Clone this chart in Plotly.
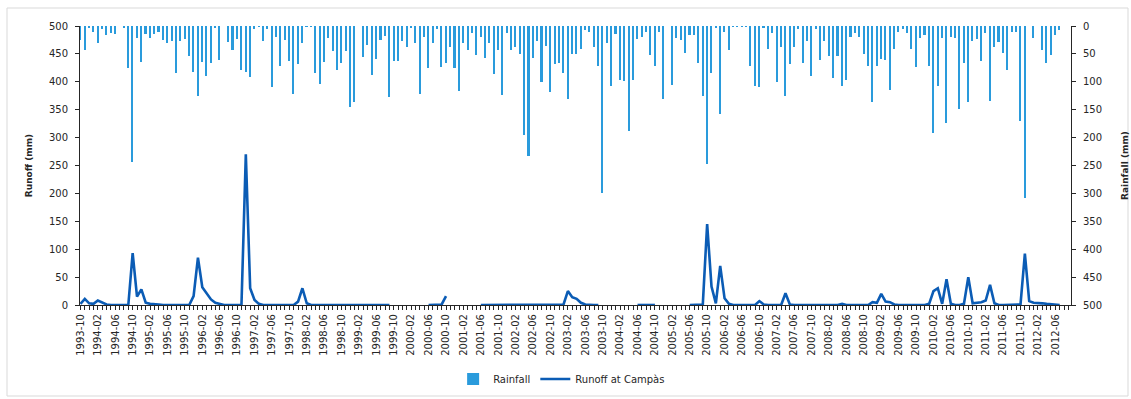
import plotly.graph_objects as go

start_year, start_month = 1993, 10
n_categories = 228  # 1993-10 .. 2012-09

rainfall = [
    25, 43, 4, 11, 31, 5, 16, 12, 14, 0, 2, 75, 243, 21, 64, 15, 22, 15, 11, 25,
    31, 26, 85, 27, 24, 54, 82, 125, 64, 90, 67, 4, 61, 0, 28, 43, 23, 79, 82, 92,
    6, 1, 27, 5, 110, 20, 71, 25, 63, 121, 68, 30, 1, 1, 84, 104, 64, 22, 44, 78,
    66, 44, 145, 136, 0, 56, 34, 88, 59, 25, 18, 128, 62, 62, 26, 37, 4, 31, 121, 19,
    76, 30, 6, 74, 67, 37, 76, 116, 30, 43, 12, 52, 20, 58, 31, 86, 43, 124, 13, 43,
    38, 50, 195, 233, 58, 26, 100, 36, 119, 68, 66, 84, 131, 50, 50, 42, 8, 10, 37, 72,
    300, 30, 108, 15, 96, 98, 188, 97, 24, 19, 10, 52, 72, 10, 131, 0, 106, 22, 25, 49,
    16, 16, 66, 125, 247, 84, 2, 158, 10, 43, 1, 1, 1, 1, 72, 108, 110, 2, 42, 13,
    100, 37, 125, 68, 37, 6, 66, 26, 90, 5, 61, 26, 54, 94, 54, 108, 96, 19, 12, 20,
    50, 72, 136, 72, 60, 61, 115, 42, 10, 6, 13, 42, 73, 22, 16, 72, 191, 108, 22, 173,
    19, 22, 148, 67, 136, 26, 24, 62, 13, 134, 38, 28, 48, 79, 10, 10, 171, 309, 0, 22,
    0, 43, 66, 52, 16, 8,
]

N = None
runoff = [
    2, 11, 3, 2, 8, 5, 1, 0, 0, 0, 0, 0, 93, 15, 28, 4, 2, 2, 1, 0,
    0, 0, 0, 0, 0, 0, 16, 85, 32, 22, 10, 4, 2, 0, 0, 0, 0, 0, 270, 30,
    9, 2, 0, 0, 0, 0, 0, 0, 0, 0, 6, 30, 3, 0, 0, 0, 0, 0, 0, 0,
    0, 0, 0, 0, 0, 0, 0, 0, 0, 0, 0, 0, N, N, N, N, N, N, N, N,
    0, 0, 0, 1, 16, N, N, N, N, N, N, N, 0, 0, 0, 0, 0, 0, 0, 0,
    0, 0, 0, 0, 0, 0, 0, 0, 0, 0, 0, 1, 25, 14, 11, 4, 1, 0, 0, 0,
    N, N, N, N, N, N, N, N, 0, 0, 0, 0, 0, N, N, N, N, N, N, N,
    0, 0, 0, 1, 145, 33, 3, 70, 12, 2, 0, 0, 0, 0, 0, 0, 7, 1, 0, 0,
    0, 0, 21, 1, 0, 0, 0, 0, 0, 0, 0, 0, 0, 0, 0, 2, 0, 0, 0, 0,
    0, 0, 5, 4, 20, 6, 5, 1, 0, 0, 0, 0, 0, 0, 0, 2, 25, 30, 2, 46,
    2, 0, 0, 2, 50, 3, 4, 5, 8, 36, 3, 0, 0, 0, 0, 0, 1, 92, 7, 4,
    4, 3, 2, 1, 1, 0,
]

months = []
for k in range(n_categories):
    m = start_month - 1 + k
    months.append(f"{start_year + m // 12}-{m % 12 + 1:02d}")
tick_idx = list(range(0, n_categories, 4))
tick_text = [months[k] for k in tick_idx]

x_rain = list(range(len(rainfall)))
x_run = list(range(len(runoff)))

font_family = "DejaVu Sans, Verdana, sans-serif"
txt = "#262626"
axis_col = "#262626"

fig = go.Figure()
fig.add_trace(go.Bar(
    x=x_rain, y=rainfall, yaxis="y2", name="Rainfall",
    marker=dict(color="#2A9BDC", line=dict(width=0)), width=0.36,
    customdata=[months[k] for k in x_rain],
    hovertemplate="%{customdata}: %{y} mm<extra>Rainfall</extra>",
))
fig.add_trace(go.Scatter(
    x=x_run, y=runoff, mode="lines", name="Runoff at Campàs",
    line=dict(color="#0B5CB5", width=2.6), connectgaps=False,
    customdata=[months[k] for k in x_run],
    hovertemplate="%{customdata}: %{y} mm<extra>Runoff</extra>",
))

fig.update_layout(
    width=1131, height=399,
    margin=dict(l=80, r=60, t=26, b=94, autoexpand=False),
    paper_bgcolor="white", plot_bgcolor="white",
    font=dict(family=font_family, size=10, color=txt),
    bargap=0,
    showlegend=True,
    legend=dict(orientation="h", x=0.486, xanchor="center", y=-0.265, yanchor="middle",
                font=dict(size=10, color=txt), bgcolor="rgba(0,0,0,0)", itemwidth=30),
    xaxis=dict(
        range=[-0.1, 227.6], showgrid=False, zeroline=False, automargin=False,
        showline=True, linecolor=axis_col, linewidth=1,
        tickmode="array", tickvals=tick_idx, ticktext=tick_text,
        tickangle=-90, tickfont=dict(size=10, color=txt),
        ticks="outside", ticklen=4, tickcolor=axis_col,
        minor=dict(tick0=0, dtick=1, ticks="outside", ticklen=4, tickcolor=axis_col),
    ),
    yaxis=dict(
        range=[0, 500], dtick=50, showgrid=False, zeroline=False, automargin=False,
        showline=True, linecolor=axis_col, linewidth=1,
        ticks="outside", ticklen=4, tickcolor=axis_col, ticklabelstandoff=5,
        tickfont=dict(size=10, color=txt),
        title=dict(text="<b>Runoff (mm)</b>", font=dict(size=9, color=txt), standoff=14),
    ),
    yaxis2=dict(
        range=[500, 0], dtick=50, overlaying="y", side="right", automargin=False,
        showgrid=False, zeroline=False,
        showline=True, linecolor=axis_col, linewidth=1,
        ticks="outside", ticklen=4, tickcolor=axis_col, ticklabelstandoff=5,
        tickfont=dict(size=10, color=txt),
        title=dict(text="<b>Rainfall (mm)</b>", font=dict(size=9, color=txt), standoff=20),
    ),
    shapes=[dict(type="rect", xref="paper", yref="paper",
                 x0=(7 - 80) / 991, x1=(1128 - 80) / 991,
                 y0=(305 - 396) / 279, y1=(305 - 8) / 279,
                 line=dict(color="#d9d9d9", width=1), fillcolor="rgba(0,0,0,0)", layer="below")],
)

fig.write_html("out.html", config={"displayModeBar": False},
               post_script="document.body.style.margin='0';document.body.style.overflow='hidden';")
